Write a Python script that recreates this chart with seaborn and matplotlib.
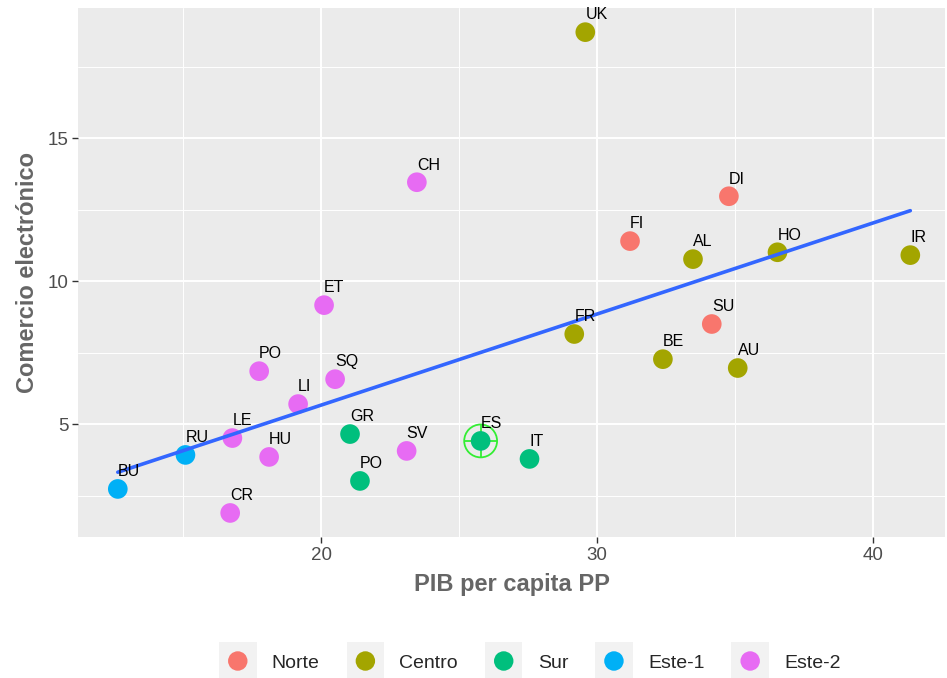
import numpy as np
import pandas as pd
import matplotlib
matplotlib.use('Agg')
import matplotlib.pyplot as plt
from matplotlib.patches import Rectangle, Circle
from matplotlib.legend_handler import HandlerBase
import seaborn as sns

# datos
paises = ['BU', 'RU', 'LE', 'CR', 'HU', 'LI', 'PO', 'SQ', 'ET', 'CH', 'GR', 'PO', 'SV',
          'ES', 'IT', 'FR', 'UK', 'FI', 'BE', 'AL', 'SU', 'DI', 'AU', 'HO', 'IR']
pib = [12.64, 15.09, 16.79, 16.71, 18.12, 19.17, 17.76, 20.51, 20.11, 23.47, 21.05, 21.41, 23.10,
       25.78, 27.55, 29.17, 29.57, 31.19, 32.38, 33.47, 34.15, 34.77, 35.09, 36.53, 41.34]
comercio = [2.73, 3.92, 4.51, 1.89, 3.85, 5.70, 6.85, 6.57, 9.16, 13.46, 4.65, 3.01, 4.06,
            4.41, 3.78, 8.15, 18.71, 11.40, 7.27, 10.77, 8.50, 12.97, 6.96, 11.01, 10.91]
zona = ['Este-1', 'Este-1', 'Este-2', 'Este-2', 'Este-2', 'Este-2', 'Este-2', 'Este-2', 'Este-2',
        'Este-2', 'Sur', 'Sur', 'Este-2', 'Sur', 'Sur', 'Centro', 'Centro', 'Norte', 'Centro',
        'Centro', 'Norte', 'Norte', 'Centro', 'Centro', 'Centro']
zonas = ['Norte', 'Centro', 'Sur', 'Este-1', 'Este-2']
colores = ['#F8766D', '#A3A500', '#00BF7D', '#00B0F6', '#E76BF3']
destacado = 'ES'

df = pd.DataFrame({'pais': paises, 'pib': pib, 'comercio': comercio, 'zona': zona})

sns.set_theme(style='darkgrid')
plt.rcParams['font.family'] = ['Liberation Sans', 'DejaVu Sans']

fig = plt.figure(figsize=(9.47, 6.78), dpi=100)
ax = fig.add_axes([0.0824, 0.208, 0.9156, 0.780])
ax.set_facecolor('#EBEBEB')

# resaltar ES (circulo con cruz)
fila = df[df['pais'] == destacado]
ax.scatter(fila['pib'], fila['comercio'], s=560, facecolors='none', edgecolors='#33EE33',
           linewidths=1.3, zorder=3)
ax.scatter(fila['pib'], fila['comercio'], s=560, marker='+', color='#33EE33',
           linewidths=1.3, zorder=3)

sns.scatterplot(data=df, x='pib', y='comercio', hue='zona', hue_order=zonas,
                palette=colores, s=200, edgecolor='none', legend=False, ax=ax, zorder=4)
sns.regplot(data=df, x='pib', y='comercio', scatter=False, ci=None, truncate=True,
            line_kws={'color': '#3366FF', 'lw': 2.6, 'zorder': 5}, ax=ax)

for _, r in df.iterrows():
    ax.annotate(r['pais'], (r['pib'], r['comercio']), xytext=(0, 7),
                textcoords='offset points', ha='left', va='bottom',
                fontsize=11.5, color='black', zorder=6)

# ejes estilo ggplot
ax.set_xlim(11.2, 42.6)
ax.set_ylim(1.05, 19.55)
ax.set_xticks([20, 30, 40])
ax.set_yticks([5, 10, 15])
ax.set_xticks([15, 25, 35], minor=True)
ax.set_yticks([2.5, 7.5, 12.5, 17.5], minor=True)
ax.grid(which='major', color='white', lw=1.4)
ax.grid(which='minor', color='white', lw=0.7)
ax.tick_params(which='major', length=4, width=1, color='#333333', labelsize=13.5,
               labelcolor='#4D4D4D', pad=3, bottom=True, left=True)
ax.tick_params(which='minor', length=0)
for s in ax.spines.values():
    s.set_visible(False)
ax.set_xlabel('PIB per capita PP', fontsize=17, fontweight='bold', color='#666666', labelpad=7)
ax.set_ylabel('Comercio electrónico', fontsize=17, fontweight='bold', color='#666666', labelpad=6)


class KeyHandler(HandlerBase):
    def __init__(self, color):
        super().__init__()
        self.color = color

    def create_artists(self, legend, orig_handle, xdescent, ydescent, width, height,
                       fontsize, trans):
        lado = 27
        cx = width / 2 - xdescent
        cy = height / 2 - ydescent
        fondo = Rectangle((cx - lado / 2, cy - lado / 2), lado, lado,
                          facecolor='#F2F2F2', edgecolor='none', transform=trans)
        punto = Circle((cx, cy), 7, facecolor=self.color, edgecolor='none', transform=trans)
        return [fondo, punto]


handles = [Rectangle((0, 0), 1, 1) for _ in zonas]
handler_map = {h: KeyHandler(c) for h, c in zip(handles, colores)}
fig.legend(handles, zonas, handler_map=handler_map, loc='center', ncol=5,
           bbox_to_anchor=(530 / 947, 1 - 661 / 678), frameon=False, fontsize=14,
           handlelength=1.9, handleheight=1.3, handletextpad=0.8, columnspacing=1.4)

fig.savefig('out.png', dpi=100)
